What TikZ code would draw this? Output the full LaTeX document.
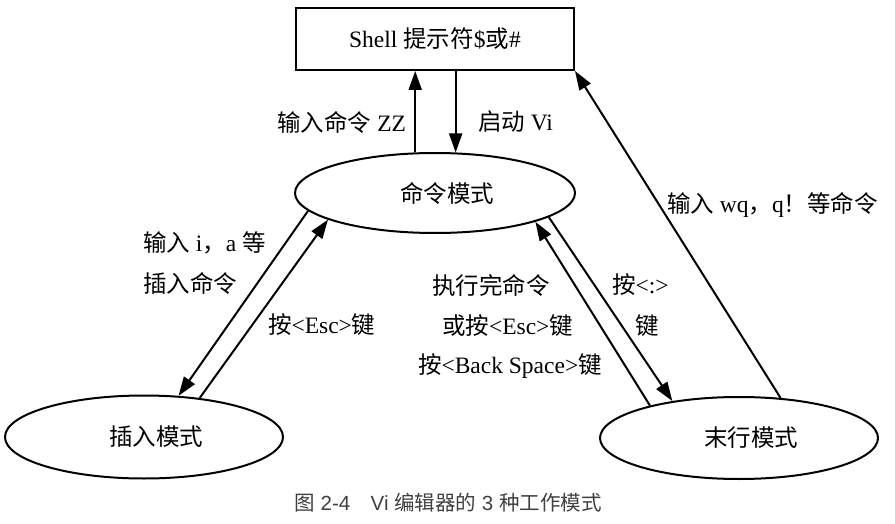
\documentclass[tikz,border=0pt]{standalone}
\usepackage{fontspec}
\setmainfont{Liberation Serif}
\newfontfamily\cjk{Noto Sans CJK SC}
\newfontfamily\capfont{Liberation Sans}
\newcommand{\zhtext}[1]{{\cjk #1}}
\usetikzlibrary{arrows.meta,shapes.geometric}
\begin{document}
\begin{tikzpicture}[x=1pt,y=-1pt,
  font=\fontsize{23.5}{27}\selectfont,
  line width=2pt,
  arr/.style={-{Triangle[length=19pt,width=13pt]}},
  lbl/.style={inner sep=0pt},
  modebox/.style={draw, ellipse, minimum width=278pt, minimum height=83pt, inner sep=0pt},
  shellbox/.style={draw, rectangle, minimum width=278pt, minimum height=62pt, inner sep=0pt},
  modetext/.style={shift={(12pt,0pt)}}]
\useasboundingbox (0,0) rectangle (895,524);

\node[shellbox] (shell) at (435,39) {Shell \zhtext{提示符}\$\zhtext{或}\#};
\node[modebox, minimum width=280pt, minimum height=80pt,
  label={[modetext]center:\zhtext{命令模式}}] (cmd) at (435,193) {};
\node[modebox, label={[modetext]center:\zhtext{插入模式}}] (ins) at (144,437) {};
\node[modebox, minimum height=82pt, label={[modetext]center:\zhtext{末行模式}}] (last) at (739,438) {};

\draw[arr] (cmd.116.8) -- (cmd.116.8 |- shell.south);
\draw[arr] (shell.south -| cmd.63.2) -- (cmd.63.2);
\draw[arr] (cmd.188.8) -- (ins.50.7);
\draw[arr] (ins.35.3) -- (cmd.194.2);
\draw[arr] (last.160.5) -- (cmd.344.4);
\draw[arr] (cmd.348.2) -- (last.151.8);
\draw[arr] (last.44.5) -- (shell.south east);

\node[lbl, anchor=east] (l1) at (407,122) {\zhtext{输入命令} ZZ};
\node[lbl, anchor=west] (l2) at (477,122) {\zhtext{启动} Vi};
\node[lbl, anchor=west] (l3) at (666,205) {\zhtext{输入} wq\zhtext{，}q\zhtext{！等命令}};
\node[lbl, anchor=west] (l4) at (142,243) {\zhtext{输入} i\zhtext{，}a \zhtext{等}};
\node[lbl, anchor=west] (l5) at (142,283) {\zhtext{插入命令}};
\node[lbl, anchor=west] (l6) at (267,325) {\zhtext{按}<Esc>\zhtext{键}};
\node[lbl, anchor=west] (l7) at (431,285) {\zhtext{执行完命令}};
\node[lbl, anchor=west] (l8) at (441,326) {\zhtext{或按}<Esc>\zhtext{键}};
\node[lbl, anchor=west] (l9) at (417,366) {\zhtext{按}<Back Space>\zhtext{键}};
\node[lbl, anchor=west] (l10) at (611,285) {\zhtext{按}<:>};
\node[lbl, anchor=west] (l11) at (634,326) {\zhtext{键}};

\node[lbl, font=\capfont\fontsize{20.5}{23}\selectfont, text=black!75] (cap) at (448,503)
  {\zhtext{图} 2-4\quad Vi \zhtext{编辑器的} 3 \zhtext{种工作模式}};
\end{tikzpicture}
\end{document}
